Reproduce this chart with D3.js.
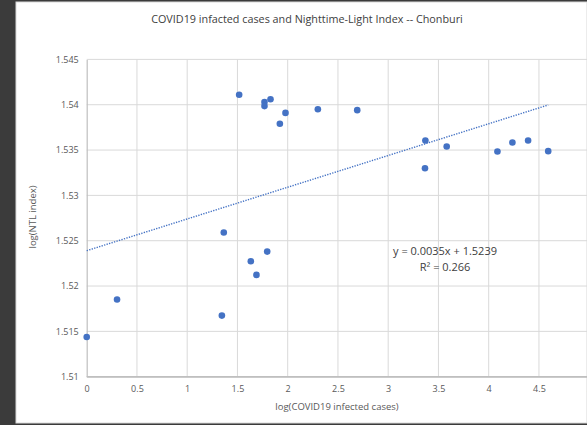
<!DOCTYPE html>
<html>
<head>
<meta charset="utf-8">
<script src="https://cdn.jsdelivr.net/npm/d3@7"></script>
<style>
  body { margin: 0; background: #3b3b3b; overflow: hidden; }
  text { font-family: "Open Sans", "Noto Sans", sans-serif; }
</style>
</head>
<body>
<div id="container"></div>
<script>
// data
const casesLog = [0, 0.302, 1.345, 1.364, 1.517, 1.633, 1.689, 1.769, 1.769, 1.796, 1.829, 1.922, 1.978, 2.30, 2.692, 3.366, 3.37, 3.582, 4.087, 4.236, 4.392, 4.592];
const ntlLog = [1.51438, 1.51851, 1.51674, 1.5259, 1.5411, 1.52274, 1.52123, 1.5403, 1.53985, 1.5238, 1.5406, 1.5379, 1.5391, 1.5395, 1.5394, 1.5330, 1.53606, 1.5354, 1.53484, 1.53584, 1.53606, 1.53488];
const xTicks = [0, 0.5, 1, 1.5, 2, 2.5, 3, 3.5, 4, 4.5, 5];
const yTicks = [1.51, 1.515, 1.52, 1.525, 1.53, 1.535, 1.54, 1.545];
const trendSlope = 0.0035, trendIntercept = 1.5239;
const trendLabels = ["y = 0.0035x + 1.5239", "R² = 0.266"];

const W = 587, H = 425;
const svg = d3.select("#container").append("svg")
  .attr("width", W).attr("height", H);

// white chart area
svg.append("rect")
  .attr("x", 16).attr("y", 2).attr("width", W - 16).attr("height", 421)
  .attr("fill", "#fff").attr("stroke", "#d9d9d9");

const x = d3.scaleLinear().domain([0, 5]).range([86.7, 589.2]);
const y = d3.scaleLinear().domain([1.51, 1.545]).range([376.7, 59.4]);

// gridlines
svg.append("g").selectAll("line").data(xTicks.slice(1)).join("line")
  .attr("x1", d => x(d)).attr("x2", d => x(d))
  .attr("y1", y(1.545)).attr("y2", y(1.51))
  .attr("stroke", "#d9d9d9").attr("stroke-width", 1);
svg.append("g").selectAll("line").data(yTicks.slice(1)).join("line")
  .attr("x1", x(0)).attr("x2", W)
  .attr("y1", d => y(d)).attr("y2", d => y(d))
  .attr("stroke", "#d9d9d9").attr("stroke-width", 1);

// axes
const xAxis = svg.append("g")
  .attr("transform", `translate(0,${y(1.51)})`)
  .call(d3.axisBottom(x).tickValues(xTicks).tickSize(0).tickPadding(9).tickFormat(d3.format("")));
const yAxis = svg.append("g")
  .attr("transform", `translate(${x(0)},0)`)
  .call(d3.axisLeft(y).tickValues(yTicks).tickSize(0).tickPadding(8).tickFormat(d3.format("")));
[xAxis, yAxis].forEach(a => {
  a.select(".domain").attr("stroke", "#bfbfbf").attr("stroke-width", 1.2);
  a.selectAll("text").attr("fill", "#595959").style("font-size", "9px")
    .style("font-family", '"Open Sans", sans-serif');
});
// bottom axis line runs on to the right edge
svg.append("line").attr("x1", x(0)).attr("x2", W)
  .attr("y1", y(1.51)).attr("y2", y(1.51))
  .attr("stroke", "#bfbfbf").attr("stroke-width", 1.2);

// trendline
const xMax = d3.max(casesLog);
svg.append("line")
  .attr("x1", x(0)).attr("y1", y(trendIntercept))
  .attr("x2", x(xMax)).attr("y2", y(trendIntercept + trendSlope * xMax))
  .attr("stroke", "#4472c4").attr("stroke-width", 1.4)
  .attr("stroke-dasharray", "1.3,1.3");

// points
svg.append("g").selectAll("circle").data(casesLog).join("circle")
  .attr("cx", d => x(d))
  .attr("cy", (d, i) => y(ntlLog[i]))
  .attr("r", 3.3)
  .attr("fill", "#4472c4");

// trend label
svg.append("g").selectAll("text").data(trendLabels).join("text")
  .attr("x", 445).attr("y", (d, i) => 255 + i * 16)
  .attr("text-anchor", "middle")
  .attr("fill", "#404040").style("font-size", "11px")
  .text(d => d);

// title
svg.append("text")
  .attr("x", 307).attr("y", 23)
  .attr("text-anchor", "middle")
  .attr("fill", "#404040").style("font-size", "10.8px")
  .text("COVID19 infacted cases and Nighttime-Light Index -- Chonburi");

// axis titles
svg.append("text")
  .attr("x", 337).attr("y", 410)
  .attr("text-anchor", "middle")
  .attr("fill", "#595959").style("font-size", "9.5px")
  .text("log(COVID19 infected cases)");
svg.append("text")
  .attr("transform", "translate(36,217) rotate(-90)")
  .attr("text-anchor", "middle")
  .attr("fill", "#595959").style("font-size", "9.5px")
  .text("log(NTL index)");
</script>
</body>
</html>
